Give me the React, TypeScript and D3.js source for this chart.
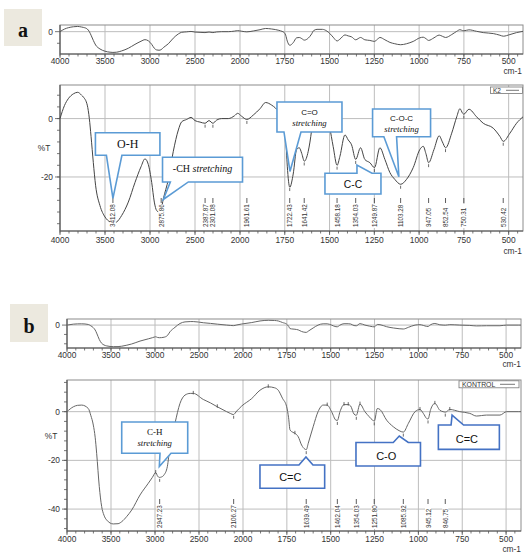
import React from "react";
import * as d3 from "d3";

// ---------- data ----------
const wnA = [4000, 3950, 3908, 3850, 3803, 3760, 3741, 3697, 3674, 3655, 3630, 3604, 3556, 3500, 3444, 3412, 3370, 3315, 3241, 3167, 3100, 3056, 3019, 2981, 2952, 2926, 2900, 2876, 2852, 2796, 2741, 2685, 2648, 2593, 2544, 2500, 2444, 2389, 2344, 2301, 2259, 2204, 2130, 2060, 2026, 1991, 1962, 1926, 1888, 1857, 1823, 1783, 1765, 1753, 1745, 1736, 1722, 1703, 1684, 1669, 1655, 1641, 1619, 1600, 1590, 1570, 1540, 1515, 1500, 1480, 1458, 1442, 1414, 1396, 1377, 1354, 1327, 1303, 1275, 1249, 1219, 1191, 1163, 1136, 1103, 1070, 1033, 996, 977, 962, 947, 917, 888, 870, 852, 818, 790, 772, 757, 750, 722, 679, 642, 586, 549, 530, 493, 456, 420];
const tA = [0, 4.5, 6.8, 8.5, 9.0, 8.0, 7.4, 4.6, 0, -6.1, -15, -23, -29.8, -33.7, -35.4, -35.8, -35.4, -33.2, -28.6, -21.9, -16.5, -13.8, -15.7, -21.9, -28.6, -31.5, -32, -31, -27.5, -20.8, -11.2, -3.9, -1.1, -0.3, 0.4, -0.7, -1.2, -1.6, -0.7, -1.6, -0.5, 0, 0, 1.0, 1.8, 0.8, -0.3, 1.2, 3.4, 5.5, 4.6, 2.3, 0.5, -1.6, -6, -16.3, -23.5, -19, -10.6, -10, -12, -14.6, -11.2, -3.9, 1.5, 4, 4, 1, -2.8, -9.5, -16, -12.9, -5.6, -7.3, -9, -14, -10, -14, -15.1, -16.8, -10, -14, -18.5, -20.8, -22.5, -20.8, -16.8, -10.6, -9.5, -12, -15.1, -10.6, -5.9, -8, -10, -5, 0.6, 3.4, 1.8, 1.5, 3.2, 0.6, -1.6, -3.3, -6.1, -7.8, -5, -1.6, 0.6];

const wnB = [4000, 3928, 3880, 3833, 3758, 3730, 3701, 3680, 3663, 3633, 3606, 3580, 3549, 3474, 3420, 3379, 3320, 3265, 3170, 3076, 3030, 2992, 2970, 2951, 2925, 2898, 2860, 2830, 2773, 2716, 2659, 2600, 2565, 2451, 2370, 2292, 2186, 2140, 2110, 2070, 2015, 1950, 1903, 1856, 1820, 1799, 1775, 1751, 1740, 1732, 1715, 1704, 1685, 1666, 1647, 1639, 1628, 1600, 1572, 1543, 1520, 1495, 1470, 1462, 1447, 1424, 1400, 1386, 1367, 1354, 1333, 1305, 1280, 1261, 1251, 1234, 1219, 1181, 1143, 1110, 1086, 1057, 1019, 991, 972, 953, 945, 930, 906, 878, 859, 846, 821, 764, 707, 669, 640, 612, 535, 497, 431, 415];
const tB = [0, 2, 2.6, 2.7, 1.3, -1.5, -5.5, -10.5, -17.1, -30.8, -39, -42.5, -44.5, -46.1, -46, -45.2, -43, -40.4, -34.2, -29.4, -27, -25, -26.5, -27, -26.8, -26, -22.6, -14.4, -4.8, 3.4, 6.8, 7.5, 7.5, 5, 3.6, 2, 0, -0.8, -1.2, 0.3, 2.3, 5.4, 8.8, 10.2, 9.8, 8.8, 5.5, 2, -2.5, -7.5, -8.5, -8.9, -10.3, -13.7, -15.4, -15.6, -13, -6.2, 0, 2.7, 2.7, 0, -3.5, -3.6, 0, 2.9, 2.9, 2.3, -1, -1.5, 3.1, 0, -2.1, -3.5, -3.8, 1.3, 0.9, -3.5, -6.2, -7.8, -8.4, -4.8, 0, 0.9, -0.7, -2.8, -3, 0.9, 3.4, 0.6, 0, -0.2, 0.9, 0, -0.7, -1.8, -1.6, -1.4, -1.4, 0, 0, 0];

const xTickValues = [4000, 3500, 3000, 2500, 2000, 1750, 1500, 1250, 1000, 750, 500];
const peaksA = [3412.08, 2875.86, 2387.87, 2301.08, 1961.61, 1722.43, 1641.42, 1458.18, 1354.03, 1249.87, 1103.28, 947.05, 852.54, 750.31, 530.42];
const peaksB = [2947.23, 2106.27, 1639.49, 1462.04, 1354.03, 1251.8, 1085.92, 945.12, 846.75];
const marksB = [2992, 2565, 2292, 1856, 1704, 1520, 1424, 1400, 1333, 991, 906, 821];
const yLabelsA = [0, -20];
const yLabelsB = [0, -20, -40];
const legendA = "K2";
const legendB = "KONTROL";

const SANS = "'Liberation Sans', Arial, Helvetica, sans-serif";
const SERIF = "'Liberation Serif', 'Times New Roman', serif";
const LIGHT = "#5B9BD5";
const DARK = "#4472C4";

function interp(wns: number[], vals: number[], w: number) {
  for (let i = 0; i < wns.length - 1; i++) {
    if (wns[i] >= w && w >= wns[i + 1]) {
      const t = (wns[i] - w) / (wns[i] - wns[i + 1]);
      return vals[i] + t * (vals[i + 1] - vals[i]);
    }
  }
  return vals[vals.length - 1];
}

type Line = { parts: { t: string; italic?: boolean }[]; family: string; size: number; cy: number };
type Callout = { wn: number; v: number; dx: number; dy: number; w: number; h: number; b1: number; b2: number; side: "top" | "bottom"; color: string; lines: Line[]; tdx?: number };

function calloutPath(tx: number, ty: number, c: Callout) {
  const bx0 = tx + c.dx, by0 = ty + c.dy, bx1 = bx0 + c.w, by1 = by0 + c.h;
  const p1 = tx + c.b1, p2 = tx + c.b2;
  if (c.side === "bottom") return `M${bx0},${by0}H${bx1}V${by1}H${p2}L${tx},${ty}L${p1},${by1}H${bx0}Z`;
  return `M${bx0},${by0}H${p1}L${tx},${ty}L${p2},${by0}H${bx1}V${by1}H${bx0}Z`;
}

function renderCallouts(cs: Callout[], x: any, y: any, key: string) {
  return cs.map((c, i) => {
    const tx = x(c.wn), ty = y(c.v);
    const bx0 = tx + c.dx, by0 = ty + c.dy;
    return (
      <g key={key + i}>
        <path d={calloutPath(tx, ty, c)} fill="#fff" stroke={c.color} strokeWidth={1.6} strokeLinejoin="miter" />
        {c.lines.map((l, j) => (
          <text key={j} x={bx0 + c.w / 2 + (c.tdx || 0)} y={by0 + l.cy} textAnchor="middle" dominantBaseline="central" fontFamily={l.family} fontSize={l.size} fill="#111">
            {l.parts.map((p, k) => (
              <tspan key={k} fontStyle={p.italic ? "italic" : "normal"}>{p.t}</tspan>
            ))}
          </text>
        ))}
      </g>
    );
  });
}

function Frame(props: { x: any; y: any; yGrid: number[]; yLabels: number[]; yMinor: number[]; labelOff: number; cmY: number; cmX: number; showPercent?: boolean }) {
  const { x, y, yGrid, yLabels, yMinor, labelOff, cmY, cmX, showPercent } = props;
  const [x0, , x1] = x.range();
  const [y1, y0] = y.range();
  const minorX = [...d3.range(4000, 2000, -100), ...d3.range(2000, 440, -50)];
  return (
    <g>
      {xTickValues.map((t) => (
        <line key={"g" + t} x1={x(t)} x2={x(t)} y1={y0} y2={y1} stroke="#bdbdbd" strokeWidth={1} />
      ))}
      {yGrid.map((v) => (
        <line key={"h" + v} x1={x0} x2={x1} y1={y(v)} y2={y(v)} stroke="#bdbdbd" strokeWidth={1} />
      ))}
      <rect x={x0} y={y0} width={x1 - x0} height={y1 - y0} fill="none" stroke="#8c8c8c" strokeWidth={1} />
      <line x1={x0} x2={x0} y1={y0} y2={y1} stroke="#555" strokeWidth={1} />
      <line x1={x0} x2={x1} y1={y1} y2={y1} stroke="#555" strokeWidth={1} />
      {minorX.map((t) => (
        <line key={"mx" + t} x1={x(t)} x2={x(t)} y1={y1} y2={y1 + 2.5} stroke="#555" strokeWidth={0.8} />
      ))}
      {xTickValues.map((t) => (
        <line key={"tx" + t} x1={x(t)} x2={x(t)} y1={y1} y2={y1 + 4} stroke="#555" strokeWidth={0.8} />
      ))}
      {yMinor.map((v) => (
        <line key={"my" + v} x1={x0 - 3} x2={x0} y1={y(v)} y2={y(v)} stroke="#555" strokeWidth={0.8} />
      ))}
      {yLabels.map((v) => (
        <line key={"ty" + v} x1={x0 - 5} x2={x0} y1={y(v)} y2={y(v)} stroke="#555" strokeWidth={0.8} />
      ))}
      {xTickValues.map((t) => (
        <text key={"lx" + t} x={x(t)} y={y1 + labelOff} textAnchor="middle" fontFamily={SANS} fontSize={8.4} fill="#333">{t}</text>
      ))}
      {yLabels.map((v) => (
        <text key={"ly" + v} x={x0 - 7} y={y(v)} textAnchor="end" dominantBaseline="central" fontFamily={SANS} fontSize={8.4} fill="#333">{v}</text>
      ))}
      {showPercent && (
        <text x={x0 - 16} y={y(-10)} textAnchor="middle" dominantBaseline="central" fontFamily={SANS} fontSize={8.4} fill="#333">%T</text>
      )}
      <text x={cmX} y={cmY} textAnchor="end" fontFamily={SANS} fontSize={8.4} fill="#333">cm-1</text>
    </g>
  );
}

function curvePath(wns: number[], vals: number[], x: any, y: any) {
  const line = d3.line<number>().x((d, i) => x(wns[i])).y((d) => y(d)).curve(d3.curveMonotoneX);
  return line(vals) || "";
}

function PeakLabels(props: { peaks: number[]; x: any; y: any; wns: number[]; vals: number[]; bottom: number }) {
  const { peaks, x, y, wns, vals, bottom } = props;
  const len = 22;
  return (
    <g>
      {peaks.map((p) => {
        const px = x(p);
        const py = y(interp(wns, vals, p));
        return (
          <g key={p}>
            <line x1={px} x2={px} y1={py + 1.5} y2={py + 4.5} stroke="#444" strokeWidth={0.8} />
            <g transform={`translate(${px},${bottom}) rotate(-90)`}>
              <rect x={-1} y={-3} width={len + 2} height={6} fill="#fff" />
              <text x={0} y={0} dominantBaseline="central" fontFamily={SANS} fontSize={6.3} fill="#333">{p.toFixed(2)}</text>
              <line x1={len + 2} x2={len + 7} y1={0} y2={0} stroke="#333" strokeWidth={0.8} />
            </g>
          </g>
        );
      })}
    </g>
  );
}

export default function App() {
  // panel a scales
  const xA = d3.scaleLinear().domain([4000, 2000, 420]).range([60, 240, 523]);
  const ySmallA = d3.scaleLinear().domain([-38.5, 11.5]).range([54, 25]);
  const yMainA = d3.scaleLinear().domain([-38.5, 11.5]).range([231, 85]);
  // panel b scales
  const xB = d3.scaleLinear().domain([4000, 2000, 415]).range([67, 243, 521]);
  const ySmallB = d3.scaleLinear().domain([-49, 13]).range([348, 319]);
  const yMainB = d3.scaleLinear().domain([-49, 13]).range([531, 380]);

  const calloutsA: Callout[] = [
    { wn: 3412, v: -27.3, dx: -17.5, dy: -65.5, w: 64.5, h: 22.5, b1: -6.5, b2: 9, side: "bottom", color: LIGHT,
      lines: [{ parts: [{ t: "O-H" }], family: SERIF, size: 12, cy: 11.3 }] },
    { wn: 2852, v: -27.7, dx: -0.8, dy: -42.2, w: 80, h: 24.7, b1: 7, b2: 25, side: "bottom", color: LIGHT,
      lines: [{ parts: [{ t: "-CH " }, { t: "stretching", italic: true }], family: SERIF, size: 10, cy: 10.5 }] },
    { wn: 1721, v: -18.1, dx: -13, dy: -69.5, w: 65, h: 30, b1: -6, b2: 11, side: "bottom", color: LIGHT,
      lines: [
        { parts: [{ t: "C=O" }], family: SANS, size: 8, cy: 9.7 },
        { parts: [{ t: "stretching", italic: true }], family: SERIF, size: 8.7, cy: 20.7 },
      ] },
    { wn: 1113, v: -19.9, dx: -26.3, dy: -67.7, w: 58, h: 27.7, b1: -15, b2: -2.3, side: "bottom", color: LIGHT,
      lines: [
        { parts: [{ t: "C-O-C" }], family: SANS, size: 8, cy: 9.3 },
        { parts: [{ t: "stretching", italic: true }], family: SERIF, size: 8.7, cy: 20.3 },
      ] },
    { wn: 1347, v: -15.9, dx: -32, dy: 8.3, w: 56, h: 20.7, b1: 0, b2: 15, side: "top", color: LIGHT,
      lines: [{ parts: [{ t: "C-C" }], family: SANS, size: 10.3, cy: 10.5 }] },
  ];

  const calloutsB: Callout[] = [
    { wn: 2951, v: -22.5, dx: -37.6, dy: -44.5, w: 66, h: 31.3, b1: 0.7, b2: 11.7, side: "bottom", color: LIGHT,
      lines: [
        { parts: [{ t: "C-H" }], family: SERIF, size: 9, cy: 9.7 },
        { parts: [{ t: "stretching", italic: true }], family: SERIF, size: 8.7, cy: 20.7 },
      ] },
    { wn: 1641, v: -18.6, dx: -46, dy: 8, w: 64.7, h: 23.3, b1: -7, b2: 7, side: "top", color: DARK, tdx: -2,
      lines: [{ parts: [{ t: "C=C" }], family: SANS, size: 11, cy: 12.5 }] },
    { wn: 1109, v: -10, dx: -43.3, dy: 6.5, w: 64.5, h: 23.5, b1: -6, b2: 9, side: "top", color: DARK, tdx: -2,
      lines: [{ parts: [{ t: "C-O" }], family: SANS, size: 11, cy: 13 }] },
    { wn: 808, v: -1.4, dx: -13.7, dy: 10, w: 61, h: 24.3, b1: -1, b2: 11.5, side: "top", color: DARK, tdx: -2,
      lines: [{ parts: [{ t: "C=C" }], family: SANS, size: 11, cy: 13.5 }] },
  ];

  return (
    <svg width={524} height={552} style={{ position: "absolute", left: 0, top: 0, background: "#fff" }}>
      <rect x={0} y={0} width={524} height={552} fill="#fff" />

      {/* ---------- panel a ---------- */}
      <rect x={4} y={9} width={38} height={37} fill="#ECE9DF" />
      <text x={23} y={37} textAnchor="middle" fontFamily={SERIF} fontWeight="bold" fontSize={20} fill="#111">a</text>

      <Frame x={xA} y={ySmallA} yGrid={[0]} yLabels={[0]} yMinor={[-20]} labelOff={10} cmX={522} cmY={74} />
      <path d={curvePath(wnA, tA, xA, ySmallA)} fill="none" stroke="#555" strokeWidth={1} />

      <Frame x={xA} y={yMainA} yGrid={yLabelsA} yLabels={yLabelsA} yMinor={d3.range(8, -37, -4)} labelOff={12} cmX={522} cmY={254} showPercent />
      <path d={curvePath(wnA, tA, xA, yMainA)} fill="none" stroke="#444" strokeWidth={1} />
      <PeakLabels peaks={peaksA} x={xA} y={yMainA} wns={wnA} vals={tA} bottom={227} />
      <g>
        <rect x={490.5} y={87} width={32} height={6.5} fill="#fff" stroke="#777" strokeWidth={0.8} />
        <text x={493} y={92.6} fontFamily={SANS} fontSize={6.5} fill="#333">{legendA}</text>
        <line x1={506} x2={519} y1={90.3} y2={90.3} stroke="#555" strokeWidth={0.8} />
      </g>
      {renderCallouts(calloutsA, xA, yMainA, "ca")}

      {/* ---------- panel b ---------- */}
      <rect x={10} y={304} width={38} height={38} fill="#ECE9DF" />
      <text x={29} y={333} textAnchor="middle" fontFamily={SERIF} fontWeight="bold" fontSize={20} fill="#111">b</text>

      <Frame x={xB} y={ySmallB} yGrid={[0]} yLabels={[0]} yMinor={[-20, -40]} labelOff={9.5} cmX={521} cmY={367} />
      <path d={curvePath(wnB, tB, xB, ySmallB)} fill="none" stroke="#666" strokeWidth={1} />

      <Frame x={xB} y={yMainB} yGrid={yLabelsB} yLabels={yLabelsB} yMinor={d3.range(12, -49, -4)} labelOff={10.5} cmX={521} cmY={551.5} showPercent />
      <path d={curvePath(wnB, tB, xB, yMainB)} fill="none" stroke="#666" strokeWidth={1} />
      {marksB.map((m) => {
        const px = xB(m), py = yMainB(interp(wnB, tB, m));
        return <line key={m} x1={px} x2={px} y1={py - 2.5} y2={py + 1} stroke="#444" strokeWidth={0.8} />;
      })}
      <PeakLabels peaks={peaksB} x={xB} y={yMainB} wns={wnB} vals={tB} bottom={528} />
      <g>
        <rect x={459} y={380.8} width={60} height={7} fill="#fff" stroke="#777" strokeWidth={0.8} />
        <text x={462} y={386.8} fontFamily={SANS} fontSize={6.9} fill="#333">{legendB}</text>
        <line x1={500} x2={515} y1={384.3} y2={384.3} stroke="#555" strokeWidth={0.8} />
      </g>
      {renderCallouts(calloutsB, xB, yMainB, "cb")}
    </svg>
  );
}
